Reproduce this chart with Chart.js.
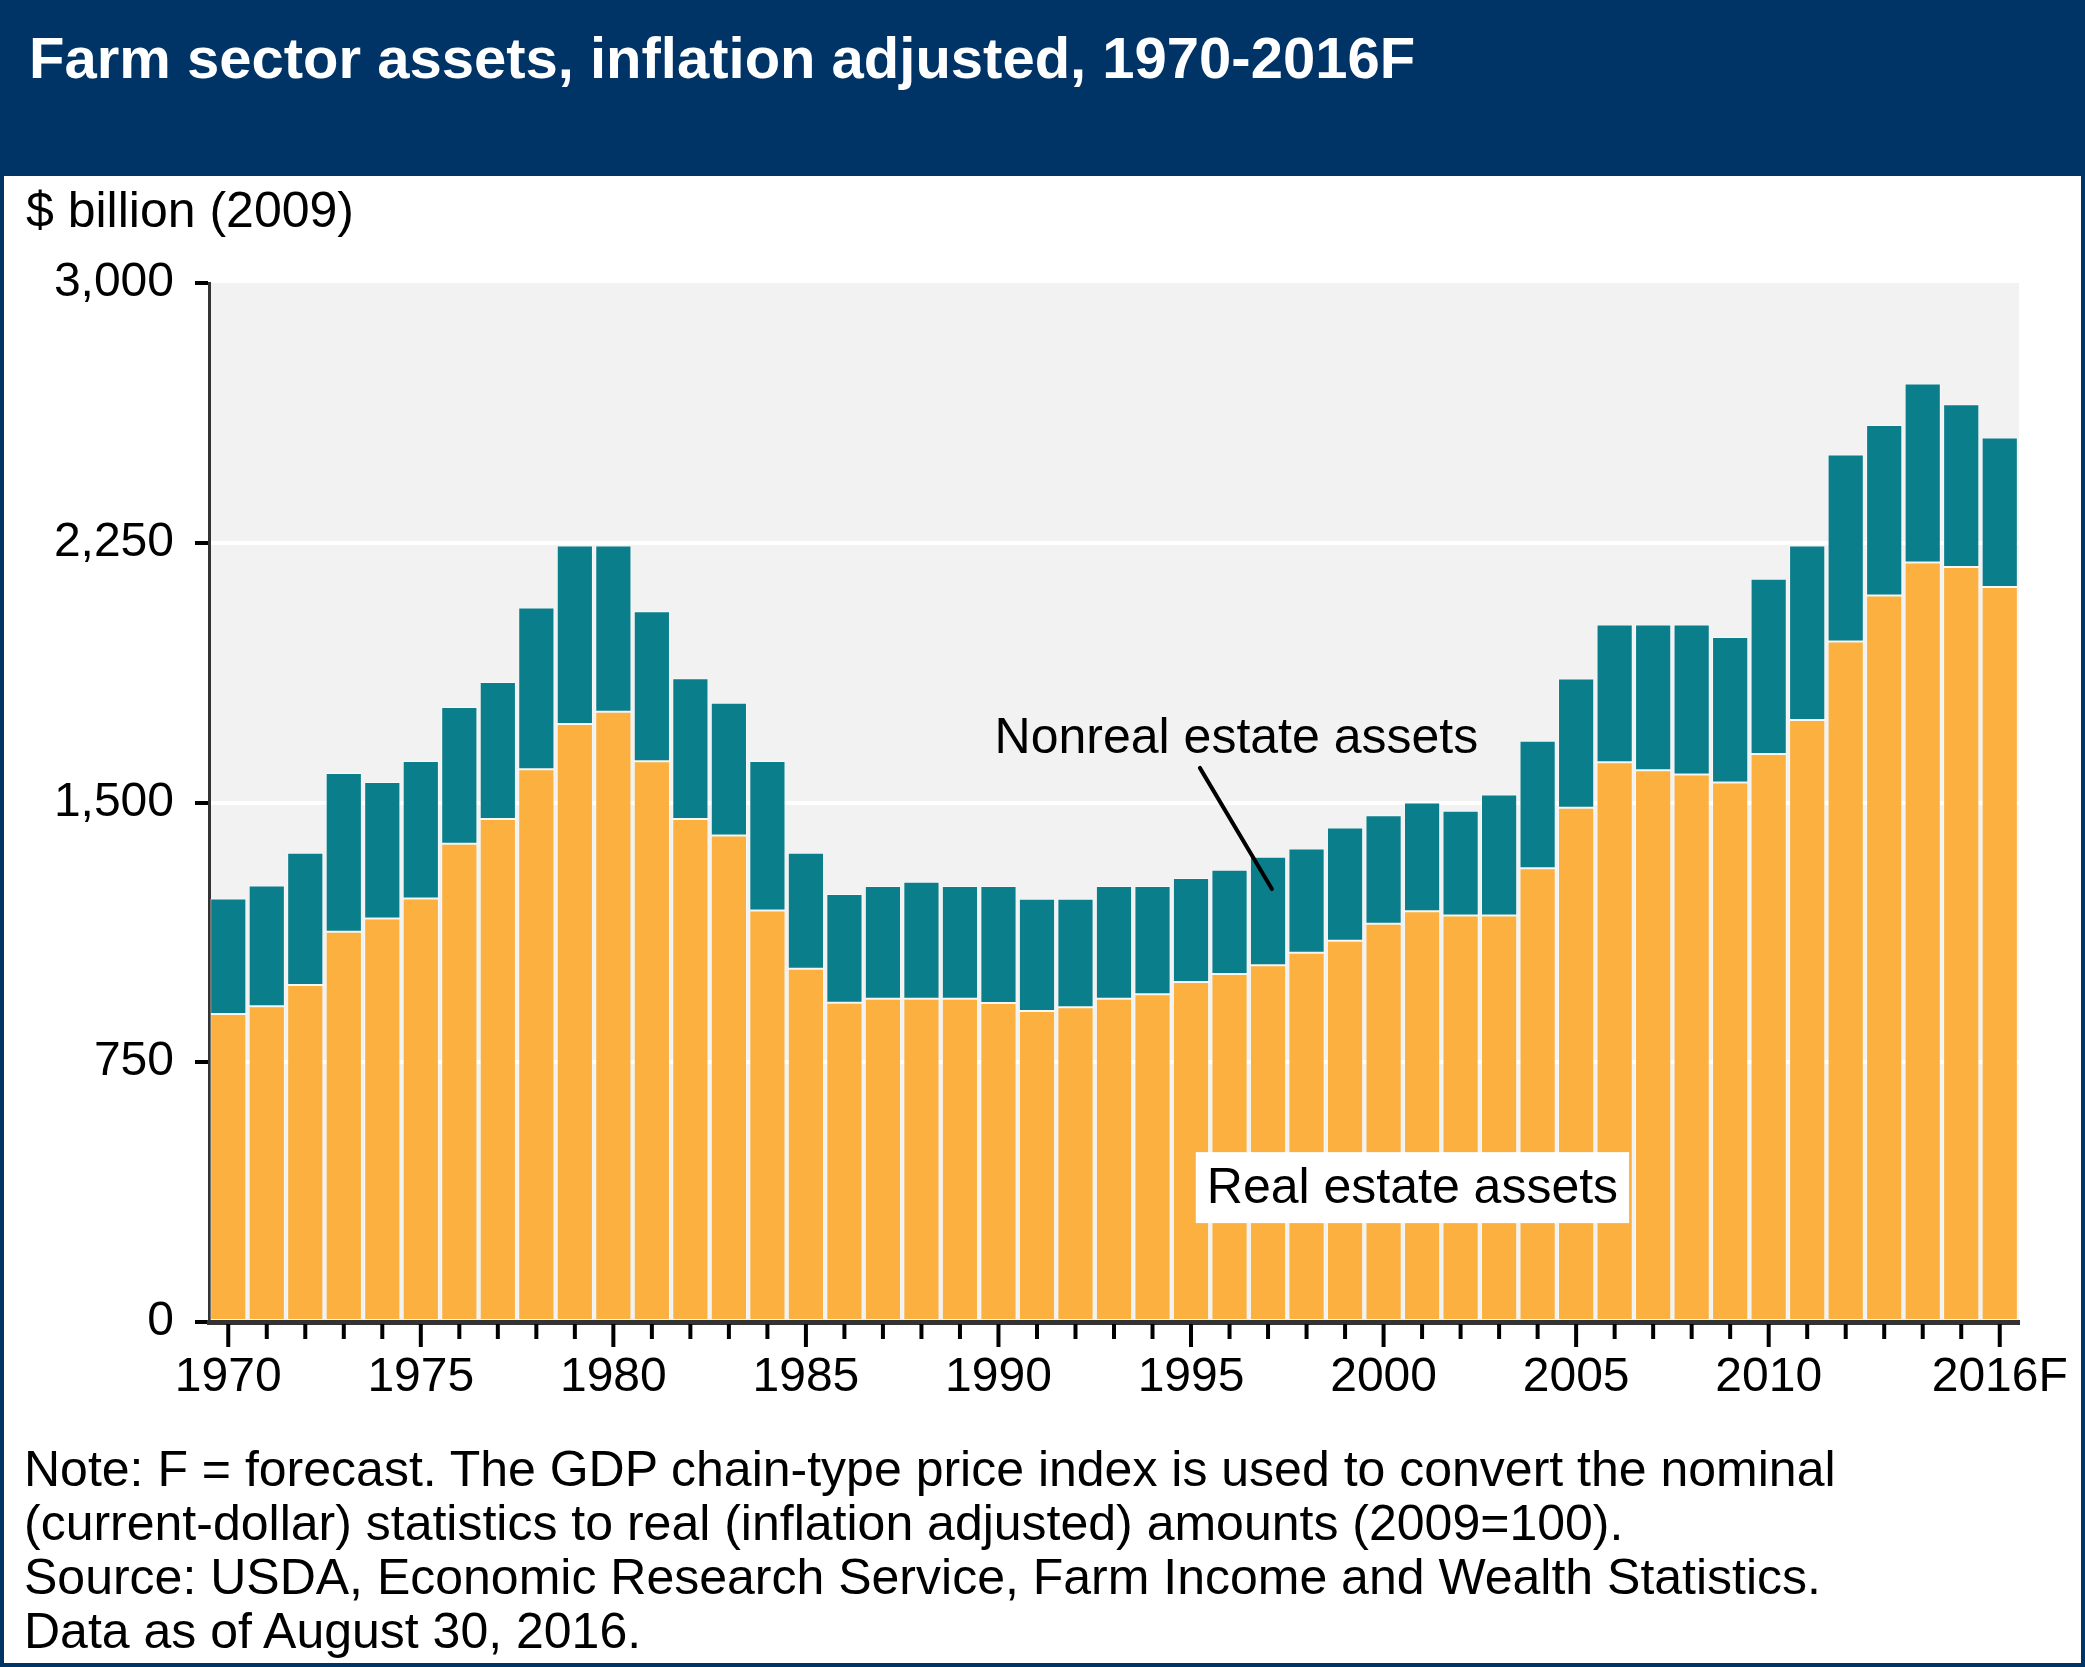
<!DOCTYPE html>
<html>
<head>
<meta charset="utf-8">
<script src="https://cdn.jsdelivr.net/npm/chart.js@4.4.1/dist/chart.umd.min.js"></script>
<style>
  html, body { margin: 0; padding: 0; overflow: hidden; }
  body { width: 2085px; height: 1667px; position: relative; font-family: 'Liberation Sans', Arial, sans-serif; }
  #frame { position: absolute; left: 0; top: 0; width: 2085px; height: 1667px; background: #003366; }
  #panel { position: absolute; left: 4px; top: 176px; width: 2077px; height: 1487px; background: #fff; }
  #title { position: absolute; left: 29px; top: 29px; margin: 0; color: #fff; font-size: 58px; line-height: 58px; font-weight: bold; white-space: nowrap; }
  #unit { position: absolute; left: 26px; top: 185px; font-size: 50px; line-height: 50px; color: #000; white-space: nowrap; }
  #notes { position: absolute; left: 24px; top: 1442px; font-size: 50px; line-height: 54px; color: #000; white-space: pre; }
  #chart { position: absolute; left: 0; top: 0; }
</style>
</head>
<body>
<div id="frame"></div>
<div id="panel"></div>
<h1 id="title">Farm sector assets, inflation adjusted, 1970-2016F</h1>
<div id="unit">$ billion (2009)</div>
<canvas id="chart" width="2085" height="1667"></canvas>
<div id="notes">Note: F = forecast. The GDP chain-type price index is used to convert the nominal
(current-dollar) statistics to real (inflation adjusted) amounts (2009=100).
Source: USDA, Economic Research Service, Farm Income and Wealth Statistics.
Data as of August 30, 2016.</div>
<script>
// $ billion (2009)
const years = [
  '1970', '1971', '1972', '1973', '1974', '1975', '1976', '1977', '1978', '1979',
  '1980', '1981', '1982', '1983', '1984', '1985', '1986', '1987', '1988', '1989',
  '1990', '1991', '1992', '1993', '1994', '1995', '1996', '1997', '1998', '1999',
  '2000', '2001', '2002', '2003', '2004', '2005', '2006', '2007', '2008', '2009',
  '2010', '2011', '2012', '2013', '2014', '2015', '2016F'
];
const realEstate = [
  889, 912, 973, 1127, 1165, 1223, 1381, 1452, 1596, 1727,
  1762, 1619, 1452, 1405, 1188, 1020, 922, 933, 933, 933,
  921, 898, 909, 933, 946, 982, 1005, 1030, 1066, 1101,
  1150, 1186, 1174, 1174, 1310, 1485, 1616, 1593, 1581, 1558,
  1640, 1738, 1965, 2098, 2193, 2180, 2122
];
const nonrealEstate = [
  334, 348, 382, 458, 394, 397, 395, 396, 467, 515,
  480, 433, 407, 383, 432, 335, 314, 326, 338, 326,
  338, 324, 313, 326, 313, 300, 301, 313, 301, 327,
  313, 314, 302, 349, 368, 373, 398, 421, 433, 420,
  506, 504, 540, 492, 517, 470, 432
];
const labeledYears = ['1970', '1975', '1980', '1985', '1990', '1995', '2000', '2005', '2010', '2016F'];
const yTicks = [0, 750, 1500, 2250, 3000];

const fontFamily = "'Liberation Sans', Arial, sans-serif";
const orange = '#FBB03F';
const teal = '#0B7E8C';

// annotation anchors in chart units (category index, $ billion)
const nonrealLabel = { x: 19.9, y: 1644, text: 'Nonreal estate assets' };
const nonrealPointer = { x1: 25.23, y1: 1600, x2: 27.1, y2: 1250 };
const realLabel = { x: 30.75, y: 388, text: 'Real estate assets' };

const plotBackground = {
  id: 'plotBackground',
  beforeDraw(chart) {
    const { ctx, chartArea: a } = chart;
    ctx.save();
    ctx.fillStyle = '#F2F2F2';
    ctx.fillRect(a.left, a.top, a.right - a.left, a.bottom - a.top);
    ctx.restore();
  }
};

// year ticks: long ones under labelled years, short ones elsewhere
const yearTicks = {
  id: 'yearTicks',
  afterDraw(chart) {
    const { ctx, chartArea: a } = chart;
    const xs = chart.scales.x;
    ctx.save();
    ctx.strokeStyle = '#000';
    ctx.lineWidth = 4;
    years.forEach((yr, i) => {
      const x = xs.getPixelForTick(i);
      const len = labeledYears.includes(yr) ? 23 : 15;
      ctx.beginPath();
      ctx.moveTo(x, a.bottom + 2);
      ctx.lineTo(x, a.bottom + 2 + len);
      ctx.stroke();
    });
    ctx.restore();
  }
};

const annotations = {
  id: 'annotations',
  afterDatasetsDraw(chart) {
    const { ctx } = chart;
    const xs = chart.scales.x;
    const ys = chart.scales.y;
    ctx.save();
    ctx.font = `50px ${fontFamily}`;
    ctx.fillStyle = '#000';
    ctx.textBaseline = 'alphabetic';
    ctx.textAlign = 'left';
    ctx.fillText(nonrealLabel.text, xs.getPixelForValue(nonrealLabel.x), ys.getPixelForValue(nonrealLabel.y));

    ctx.strokeStyle = '#000';
    ctx.lineWidth = 4;
    ctx.lineCap = 'round';
    ctx.beginPath();
    ctx.moveTo(xs.getPixelForValue(nonrealPointer.x1), ys.getPixelForValue(nonrealPointer.y1));
    ctx.lineTo(xs.getPixelForValue(nonrealPointer.x2), ys.getPixelForValue(nonrealPointer.y2));
    ctx.stroke();

    const cx = xs.getPixelForValue(realLabel.x);
    const cy = ys.getPixelForValue(realLabel.y);
    const w = ctx.measureText(realLabel.text).width + 22;
    ctx.fillStyle = '#fff';
    ctx.fillRect(cx - w / 2, cy - 35.5, w, 71);
    ctx.fillStyle = '#000';
    ctx.textAlign = 'center';
    ctx.textBaseline = 'middle';
    ctx.fillText(realLabel.text, cx, cy + 2);
    ctx.restore();
  }
};

new Chart(document.getElementById('chart'), {
  type: 'bar',
  data: {
    labels: years,
    datasets: [
      {
        label: 'Real estate assets',
        data: realEstate,
        backgroundColor: orange,
        borderColor: 'rgba(255,255,255,0.45)',
        borderWidth: 1,
        borderSkipped: false,
        barPercentage: 0.94,
        categoryPercentage: 1
      },
      {
        label: 'Nonreal estate assets',
        data: nonrealEstate,
        backgroundColor: teal,
        borderColor: 'rgba(255,255,255,0.45)',
        borderWidth: 1,
        borderSkipped: false,
        barPercentage: 0.94,
        categoryPercentage: 1
      }
    ]
  },
  options: {
    responsive: false,
    animation: false,
    events: [],
    devicePixelRatio: 1,
    layout: { padding: { top: 283, right: 66, left: 0, bottom: 0 } },
    plugins: { legend: { display: false }, tooltip: { enabled: false } },
    scales: {
      x: {
        stacked: true,
        z: 1,
        afterFit: (s) => { s.height = 345; s.paddingLeft = 0; s.paddingRight = 0; },
        grid: { display: false, drawTicks: false },
        border: { display: true, color: '#333', width: 5 },
        ticks: {
          autoSkip: false,
          maxRotation: 0,
          padding: 27,
          color: '#000',
          font: { family: fontFamily, size: 48 },
          callback: (v, i) => (labeledYears.includes(years[i]) ? years[i] : '')
        }
      },
      y: {
        stacked: true,
        min: 0,
        max: 3000,
        afterFit: (s) => { s.width = 209; },
        afterBuildTicks: (s) => { s.ticks = yTicks.map(v => ({ value: v })); },
        grid: {
          color: (c) => (c.tick && c.tick.value === 3000 ? 'rgba(0,0,0,0)' : '#fff'),
          lineWidth: 4,
          tickLength: 14,
          tickWidth: 4,
          tickColor: '#000'
        },
        border: { display: true, color: '#333', width: 3 },
        ticks: {
          padding: 21,
          color: '#000',
          font: { family: fontFamily, size: 48 },
          callback: (v) => v.toLocaleString('en-US')
        }
      }
    }
  },
  plugins: [plotBackground, yearTicks, annotations]
});
</script>
</body>
</html>
